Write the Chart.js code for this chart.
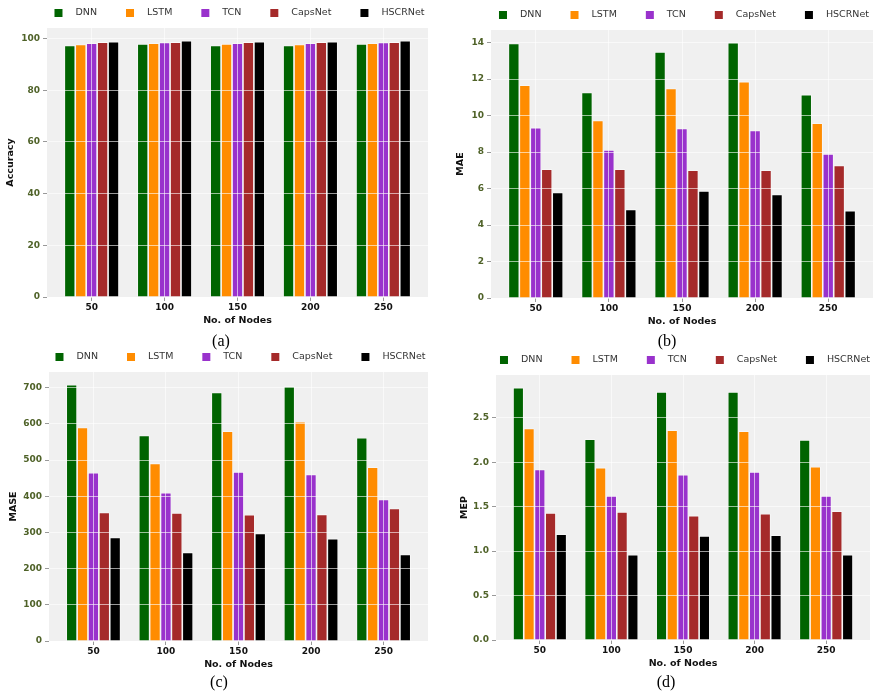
<!DOCTYPE html>
<html>
<head>
<meta charset="utf-8">
<script src="https://cdn.jsdelivr.net/npm/chart.js@4.4.1/dist/chart.umd.min.js"></script>
<style>
  body { margin: 0; background: #fff; width: 883px; height: 694px; position: relative; overflow: hidden; }
  canvas { position: absolute; }
  .cap { position: absolute; font: 16px "Liberation Serif", serif; color: #000; transform: translate(-50%, -50%); }
</style>
</head>
<body>
<canvas id="accChart" width="440" height="334" style="left:0;top:0"></canvas>
<canvas id="maeChart" width="443" height="334" style="left:440px;top:0"></canvas>
<canvas id="maseChart" width="440" height="334" style="left:0;top:340px"></canvas>
<canvas id="mepChart" width="443" height="334" style="left:440px;top:340px"></canvas>
<div class="cap" style="left:221px;top:341px">(a)</div>
<div class="cap" style="left:667px;top:341px">(b)</div>
<div class="cap" style="left:219px;top:682px">(c)</div>
<div class="cap" style="left:666px;top:682px">(d)</div>
<script>
// categories and models
const nodes = ["50", "100", "150", "200", "250"];
const models = ["DNN", "LSTM", "TCN", "CapsNet", "HSCRNet"];
const colors = ["#006400", "#ff8c00", "#9932cc", "#a52a2a", "#000000"];

// (a) Accuracy
const accDNN = [97.3, 97.9, 97.3, 97.3, 97.9];
const accLSTM = [97.7, 98.2, 97.9, 97.7, 98.2];
const accTCN = [98.2, 98.5, 98.2, 98.2, 98.5];
const accCaps = [98.6, 98.6, 98.6, 98.6, 98.6];
const accHSCR = [98.8, 99.1, 98.8, 98.8, 99.1];

// (b) MAE
const maeDNN = [13.95, 11.26, 13.49, 13.99, 11.15];
const maeLSTM = [11.66, 9.73, 11.48, 11.86, 9.58];
const maeTCN = [9.34, 8.12, 9.29, 9.18, 7.90];
const maeCaps = [7.06, 7.06, 7.00, 7.00, 7.26];
const maeHSCR = [5.78, 4.86, 5.87, 5.67, 4.79];

// (c) MASE
const maseDNN = [708, 568, 687, 704, 562];
const maseLSTM = [590, 491, 580, 606, 480];
const maseTCN = [465, 410, 467, 460, 391];
const maseCaps = [355, 354, 349, 350, 366];
const maseHSCR = [286, 245, 297, 283, 239];

// (d) MEP
const mepDNN = [2.84, 2.26, 2.79, 2.79, 2.25];
const mepLSTM = [2.38, 1.94, 2.36, 2.35, 1.95];
const mepTCN = [1.92, 1.62, 1.86, 1.89, 1.62];
const mepCaps = [1.43, 1.44, 1.40, 1.42, 1.45];
const mepHSCR = [1.19, 0.96, 1.17, 1.18, 0.96];

// grey plot background
const plotBg = {
  id: "plotBg",
  beforeDraw(chart) {
    const a = chart.chartArea, ctx = chart.ctx;
    ctx.save();
    ctx.fillStyle = "#f0f0f0";
    ctx.fillRect(a.left, a.top, a.right - a.left, a.bottom - a.top);
    ctx.restore();
  }
};

// one-row legend above the plot
const rowLegend = {
  id: "rowLegend",
  afterDraw(chart) {
    const ctx = chart.ctx, a = chart.chartArea;
    const sets = chart.data.datasets;
    const box = 8, gapText = 13, gapItem = 29;
    ctx.save();
    ctx.font = '9.5px "DejaVu Sans"';
    const widths = sets.map(d => ctx.measureText(d.label).width);
    let total = (sets.length - 1) * gapItem;
    widths.forEach(w => total += box + gapText + w);
    let x = (a.left + a.right) / 2 + 2 - total / 2;
    const y = a.top - 15;
    ctx.textBaseline = "middle";
    sets.forEach((d, i) => {
      ctx.fillStyle = d.backgroundColor;
      ctx.fillRect(x, y - box / 2, box, box);
      ctx.fillStyle = "#333";
      ctx.fillText(d.label, x + box + gapText, y);
      x += box + gapText + widths[i] + gapItem;
    });
    ctx.restore();
  }
};

function makePanel(id, yTitle, series, step, decimals, pad) {
  let top = 0;
  series.forEach(s => s.forEach(v => { if (v > top) top = v; }));
  const yMax = top * 1.05;
  new Chart(document.getElementById(id), {
    type: "bar",
    data: {
      datasets: series.map((s, i) => ({
        label: models[i],
        data: s.map((v, j) => ({ x: j, y: v })),
        backgroundColor: colors[i],
        borderColor: "rgba(255,255,255,0.75)",
        borderWidth: 0.8,
        categoryPercentage: 0.75,
        barPercentage: 1
      }))
    },
    options: {
      responsive: false,
      animation: false,
      layout: { padding: { left: pad.left, right: pad.right, top: pad.top, bottom: pad.bottom } },
      plugins: { legend: { display: false }, tooltip: { enabled: false } },
      scales: {
        x: {
          type: "linear",
          min: -0.6125,
          max: 4.6125,
          offset: false,
          border: { display: false },
          grid: { offset: false, z: 1, color: "rgba(255,255,255,0.6)", tickColor: "#999", tickLength: 4 },
          ticks: {
            stepSize: 1,
            includeBounds: false,
            padding: 1,
            color: "#111",
            font: { family: "DejaVu Sans", size: 9, weight: "bold" },
            callback: v => Number.isInteger(v) ? nodes[v] : ""
          },
          title: {
            display: true, text: "No. of Nodes", color: "#111", padding: 0,
            font: { family: "DejaVu Sans", size: 9.5, weight: "bold" }
          },
          afterFit: s => { s.height = 29; }
        },
        y: {
          min: 0,
          max: yMax,
          border: { display: false },
          grid: { z: 1, color: "rgba(255,255,255,0.6)", tickColor: "#999", tickLength: 4 },
          ticks: {
            stepSize: step,
            includeBounds: false,
            padding: 3,
            color: "#4f6228",
            font: { family: "DejaVu Sans", size: 9, weight: "bold" },
            callback: v => v.toFixed(decimals)
          },
          title: {
            display: true, text: yTitle, color: "#111", padding: 0,
            font: { family: "DejaVu Sans", size: 9.5, weight: "bold" }
          },
          afterFit: s => { s.width = pad.axis; }
        }
      }
    },
    plugins: [plotBg, rowLegend]
  });
}

makePanel("accChart", "Accuracy", [accDNN, accLSTM, accTCN, accCaps, accHSCR], 20, 0,
  { left: 5, axis: 42, right: 12, top: 28, bottom: 8 });
makePanel("maeChart", "MAE", [maeDNN, maeLSTM, maeTCN, maeCaps, maeHSCR], 2, 0,
  { left: 15, axis: 36, right: 10, top: 30, bottom: 7 });
makePanel("maseChart", "MASE", [maseDNN, maseLSTM, maseTCN, maseCaps, maseHSCR], 100, 0,
  { left: 8, axis: 41, right: 12, top: 32, bottom: 4 });
makePanel("mepChart", "MEP", [mepDNN, mepLSTM, mepTCN, mepCaps, mepHSCR], 0.5, 1,
  { left: 19, axis: 37, right: 13, top: 35, bottom: 5 });
</script>
</body>
</html>
